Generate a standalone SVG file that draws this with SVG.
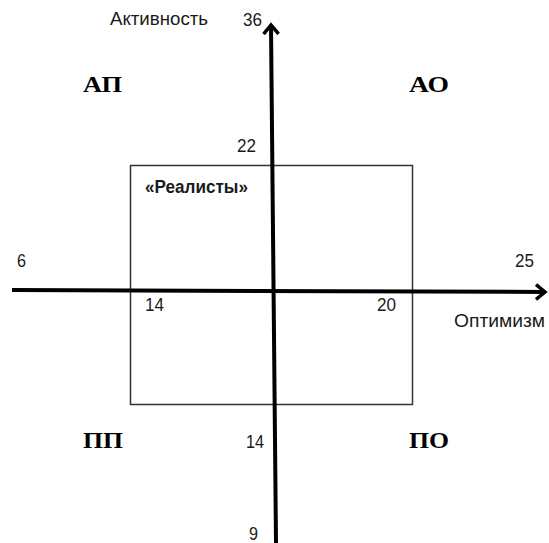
<svg xmlns="http://www.w3.org/2000/svg" width="549" height="543" viewBox="0 0 549 543">
<style>
.n{font-family:"Liberation Sans",Arial,sans-serif;font-size:18px;fill:#1a1a1a}
.q{font-family:"Liberation Serif","Times New Roman",serif;font-size:24px;font-weight:bold;fill:#000}
.ax{stroke:#000;stroke-width:4;fill:none}
</style>
<defs>
<marker id="ah" markerWidth="14" markerHeight="18" refX="9" refY="9" orient="auto" markerUnits="userSpaceOnUse" viewBox="0 0 14 18">
<path d="M1,1.5 L10,9 L1,16.5" fill="none" stroke="#000" stroke-width="3.5" stroke-linejoin="miter"/>
</marker>
</defs>
<g id="box"><rect x="130.5" y="165.5" width="282" height="239" fill="none" stroke="#333" stroke-width="1.5"/></g>
<g id="connectors">
<line class="ax" x1="12" y1="290" x2="544" y2="292" marker-end="url(#ah)"/>
<line class="ax" x1="276" y1="543" x2="271" y2="26" marker-end="url(#ah)"/>
</g>
<g id="labels">
<text class="n" x="110" y="25" textLength="98" lengthAdjust="spacingAndGlyphs">Активность</text>
<text class="n" x="243" y="26" textLength="19" lengthAdjust="spacingAndGlyphs">36</text>
<text class="n" x="237" y="152" textLength="19" lengthAdjust="spacingAndGlyphs">22</text>
<text class="n" x="145" y="193" font-weight="bold" textLength="103" lengthAdjust="spacingAndGlyphs">«Реалисты»</text>
<text class="n" x="17" y="267" textLength="9" lengthAdjust="spacingAndGlyphs">6</text>
<text class="n" x="515" y="267" textLength="19" lengthAdjust="spacingAndGlyphs">25</text>
<text class="n" x="145" y="311" textLength="19" lengthAdjust="spacingAndGlyphs">14</text>
<text class="n" x="377" y="311" textLength="19" lengthAdjust="spacingAndGlyphs">20</text>
<text class="n" x="454" y="327" textLength="91" lengthAdjust="spacingAndGlyphs">Оптимизм</text>
<text class="n" x="246" y="448" textLength="18" lengthAdjust="spacingAndGlyphs">14</text>
<text class="n" x="249" y="540" textLength="9" lengthAdjust="spacingAndGlyphs">9</text>
</g>
<g id="AP"><text class="q" x="83" y="92" textLength="39" lengthAdjust="spacingAndGlyphs">АП</text></g>
<g id="AO"><text class="q" x="409" y="92" textLength="40" lengthAdjust="spacingAndGlyphs">АО</text></g>
<g id="PP"><text class="q" x="83" y="448" textLength="40" lengthAdjust="spacingAndGlyphs">ПП</text></g>
<g id="PO"><text class="q" x="409" y="448" textLength="40" lengthAdjust="spacingAndGlyphs">ПО</text></g>
</svg>
